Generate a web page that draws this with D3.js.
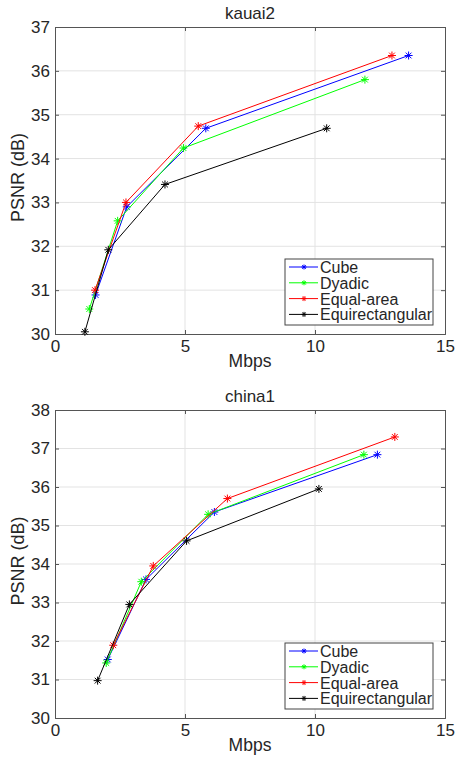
<!DOCTYPE html>
<html>
<head>
<meta charset="utf-8">
<script src="https://cdn.jsdelivr.net/npm/d3@7"></script>
<style>
  body { margin: 0; background: #fff; }
  text { font-family: "Liberation Sans", Helvetica, Arial, sans-serif; fill: #262626; }
</style>
</head>
<body>
<div id="chart"></div>
<script>
// series names and colours
var seriesNames = ["Cube", "Dyadic", "Equal-area", "Equirectangular"];
var seriesColors = ["#0000ff", "#00ff00", "#ff0000", "#000000"];

// kauai2: Mbps / PSNR per series
var kauaiCubeX = [1.56, 2.76, 5.8, 13.6];
var kauaiCubeY = [30.89, 32.9, 34.69, 36.35];
var kauaiDyadicX = [1.32, 2.41, 4.94, 11.92];
var kauaiDyadicY = [30.57, 32.58, 34.24, 35.8];
var kauaiEqualX = [1.54, 2.73, 5.51, 12.96];
var kauaiEqualY = [31.0, 33.0, 34.74, 36.35];
var kauaiEquirectX = [1.15, 2.05, 4.23, 10.45];
var kauaiEquirectY = [30.05, 31.92, 33.41, 34.69];

// china1
var chinaCubeX = [2.03, 3.5, 6.13, 12.4];
var chinaCubeY = [31.52, 33.6, 35.35, 36.84];
var chinaDyadicX = [1.97, 3.32, 5.89, 11.88];
var chinaDyadicY = [31.43, 33.54, 35.29, 36.84];
var chinaEqualX = [2.24, 3.78, 6.63, 13.07];
var chinaEqualY = [31.89, 33.95, 35.7, 37.3];
var chinaEquirectX = [1.64, 2.86, 5.06, 10.15];
var chinaEquirectY = [30.97, 32.95, 34.6, 35.95];

// tick labels
var xTicks = [0, 5, 10, 15];
var kauaiYTicks = [30, 31, 32, 33, 34, 35, 36, 37];
var chinaYTicks = [30, 31, 32, 33, 34, 35, 36, 37, 38];

var svg = d3.select("#chart")
    .append("svg")
    .attr("width", 455)
    .attr("height", 759);

function zip(xs, ys) {
    return xs.map(function (x, i) { return [x, ys[i]]; });
}

// MATLAB style '*' marker: a plus and a cross
function asterisk(r) {
    var d = r * 0.72;
    return "M0," + (-r) + "L0," + r +
        "M" + (-r) + ",0L" + r + ",0" +
        "M" + (-d) + "," + (-d) + "L" + d + "," + d +
        "M" + (-d) + "," + d + "L" + d + "," + (-d);
}

function drawPanel(cfg) {
    var left = 55, right = 445;
    var x = d3.scaleLinear().domain([0, 15]).range([left, right]);
    var y = d3.scaleLinear().domain(cfg.yDomain).range([cfg.bottom, cfg.top]);
    var g = svg.append("g");

    // grid
    g.selectAll(".gx").data(xTicks.slice(1, -1)).enter().append("line")
        .attr("x1", d => x(d)).attr("x2", d => x(d))
        .attr("y1", cfg.top).attr("y2", cfg.bottom)
        .attr("stroke", "#e3e3e3").attr("stroke-width", 1);
    g.selectAll(".gy").data(cfg.yTicks.slice(1, -1)).enter().append("line")
        .attr("x1", left).attr("x2", right)
        .attr("y1", d => y(d)).attr("y2", d => y(d))
        .attr("stroke", "#e3e3e3").attr("stroke-width", 1);

    // axes, ticks inside like matlab
    var xAxis = d3.axisBottom(x).tickValues(xTicks).tickSize(-4).tickPadding(6).tickFormat(d3.format("d"));
    var xTop = d3.axisTop(x).tickValues(xTicks).tickSize(-4).tickFormat("");
    var yAxis = d3.axisLeft(y).tickValues(cfg.yTicks).tickSize(-4).tickPadding(5).tickFormat(d3.format("d"));
    var yRight = d3.axisRight(y).tickValues(cfg.yTicks).tickSize(-4).tickFormat("");

    [[xAxis, "translate(0," + cfg.bottom + ")"],
     [xTop, "translate(0," + cfg.top + ")"],
     [yAxis, "translate(" + left + ",0)"],
     [yRight, "translate(" + right + ",0)"]].forEach(function (a) {
        var ax = g.append("g").attr("transform", a[1]).call(a[0]);
        ax.selectAll("path, line").attr("stroke", "#555").attr("stroke-width", 1);
        ax.selectAll("text").attr("font-size", 17).style("fill", "#262626")
            .attr("font-family", "'Liberation Sans', Helvetica, Arial, sans-serif");
    });

    // title and labels
    g.append("text")
        .attr("x", (left + right) / 2).attr("y", cfg.top - 8)
        .attr("text-anchor", "middle").attr("font-size", 17)
        .text(cfg.title);
    g.append("text")
        .attr("x", (left + right) / 2).attr("y", cfg.bottom + 33)
        .attr("text-anchor", "middle").attr("font-size", 17.5)
        .text("Mbps");
    g.append("text")
        .attr("transform", "rotate(-90)")
        .attr("x", -(cfg.top + cfg.bottom) / 2 + 3).attr("y", 24)
        .attr("text-anchor", "middle").attr("font-size", 18)
        .text("PSNR (dB)");

    // lines and markers
    var line = d3.line().x(d => x(d[0])).y(d => y(d[1]));
    cfg.series.forEach(function (pts, i) {
        g.append("path")
            .attr("d", line(pts))
            .attr("fill", "none")
            .attr("stroke", seriesColors[i])
            .attr("stroke-width", 1);
        g.selectAll(".m" + i).data(pts).enter().append("path")
            .attr("transform", d => "translate(" + x(d[0]) + "," + y(d[1]) + ")")
            .attr("d", asterisk(4))
            .attr("stroke", seriesColors[i])
            .attr("stroke-width", 1);
    });

    // legend
    var lx = 285, ly = cfg.legendTop, lw = 148, lh = 66;
    var leg = g.append("g");
    leg.append("rect")
        .attr("x", lx).attr("y", ly).attr("width", lw).attr("height", lh)
        .attr("fill", "#fff").attr("stroke", "#444").attr("stroke-width", 1);
    seriesNames.forEach(function (name, i) {
        var yy = ly + 8 + i * 15.8;
        leg.append("line")
            .attr("x1", lx + 4).attr("x2", lx + 33)
            .attr("y1", yy).attr("y2", yy)
            .attr("stroke", seriesColors[i]).attr("stroke-width", 1);
        leg.append("path")
            .attr("transform", "translate(" + (lx + 19) + "," + yy + ")")
            .attr("d", asterisk(2.5))
            .attr("stroke", seriesColors[i]).attr("stroke-width", 1);
        leg.append("text")
            .attr("x", lx + 35).attr("y", yy + 6)
            .attr("font-size", 16)
            .text(name);
    });
}

drawPanel({
    title: "kauai2",
    top: 27, bottom: 334,
    yDomain: [30, 37],
    yTicks: kauaiYTicks,
    legendTop: 259,
    series: [zip(kauaiCubeX, kauaiCubeY), zip(kauaiDyadicX, kauaiDyadicY),
             zip(kauaiEqualX, kauaiEqualY), zip(kauaiEquirectX, kauaiEquirectY)]
});

drawPanel({
    title: "china1",
    top: 410, bottom: 718,
    yDomain: [30, 38],
    yTicks: chinaYTicks,
    legendTop: 643,
    series: [zip(chinaCubeX, chinaCubeY), zip(chinaDyadicX, chinaDyadicY),
             zip(chinaEqualX, chinaEqualY), zip(chinaEquirectX, chinaEquirectY)]
});
</script>
</body>
</html>
